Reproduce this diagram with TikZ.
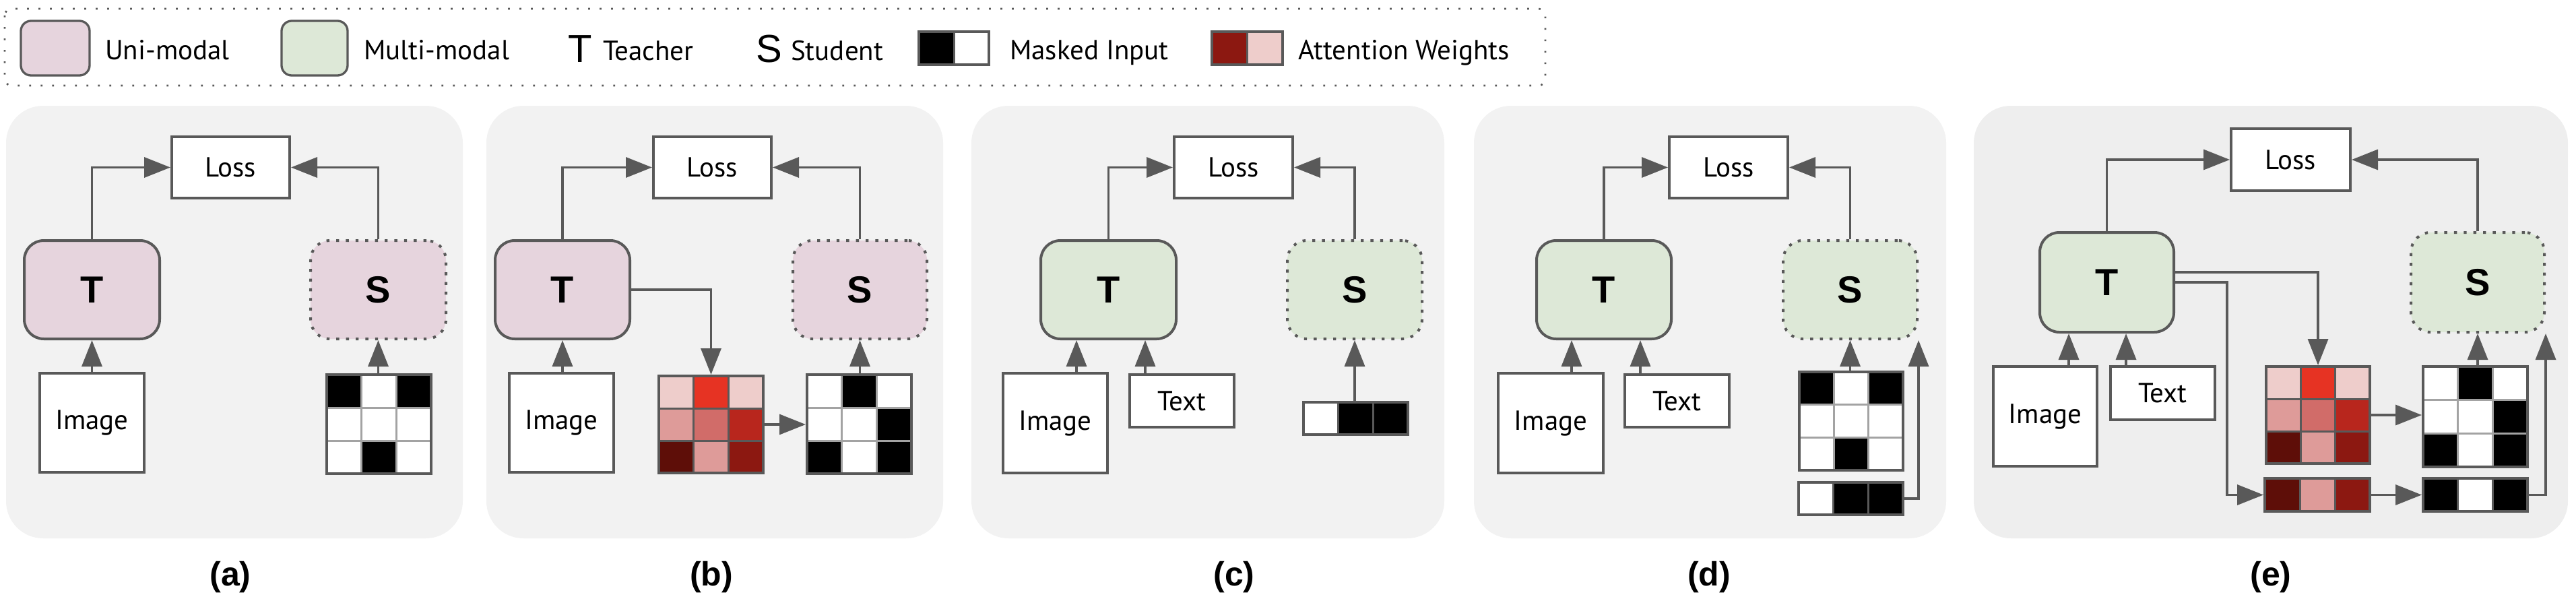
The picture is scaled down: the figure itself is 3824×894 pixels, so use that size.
\documentclass[tikz,border=0pt]{standalone}
\usepackage{fontspec}
\setmainfont{PT Sans}
\newfontfamily\arialf{Liberation Sans}
\usetikzlibrary{arrows.meta,calc}
\definecolor{gr}{HTML}{595959}
\definecolor{lgr}{HTML}{A3A3A3}
\definecolor{panelbg}{HTML}{F2F2F2}
\definecolor{panelbge}{HTML}{EEEEEE}
\definecolor{uni}{HTML}{E6D4DD}
\definecolor{multi}{HTML}{DDE8D7}
\definecolor{aA}{HTML}{EECDCB}
\definecolor{aB}{HTML}{E63323}
\definecolor{aC}{HTML}{DE9B99}
\definecolor{aD}{HTML}{D16C69}
\definecolor{aE}{HTML}{B8261D}
\definecolor{aF}{HTML}{5E0E08}
\definecolor{aG}{HTML}{8C1811}
% #1 style, #2 name, #3 x1, #4 y1, #5 x2, #6 y2, #7 text
\newcommand{\mybox}[7]{%
  \pgfmathsetmacro{\bxw}{#5-#3}\pgfmathsetmacro{\bxh}{#6-#4}%
  \pgfmathsetmacro{\bxcx}{(#3+#5)/2}\pgfmathsetmacro{\bxcy}{(#4+#6)/2}%
  \node[#1, minimum width=\bxw pt, minimum height=\bxh pt] (#2) at (\bxcx,\bxcy) {#7};}
% #1 name, #2 x1, #3 y1, #4 x2, #5 y2, #6 ncols, #7 nrows, #8 inner line colour, #9 cell colours
\newcommand{\mygrid}[9]{%
  \pgfmathsetmacro{\mgw}{(#4-#2)/#6}\pgfmathsetmacro{\mgh}{(#5-#3)/#7}%
  \foreach \cc [count=\ii from 0] in {#9} {%
    \pgfmathtruncatemacro{\grow}{floor(\ii/#6)}%
    \pgfmathtruncatemacro{\gcol}{mod(\ii,#6)}%
    \fill[fill=\cc] ({#2+\gcol*\mgw},{#3+\grow*\mgh}) rectangle ++(\mgw,\mgh);
  }%
  \ifnum#6>1 \draw[#8, line width=3pt] ({#2+\mgw},#3) -- ({#2+\mgw},#5);\fi
  \ifnum#6>2 \draw[#8, line width=3pt] ({#2+2*\mgw},#3) -- ({#2+2*\mgw},#5);\fi
  \ifnum#7>1 \draw[#8, line width=3pt] (#2,{#3+\mgh}) -- (#4,{#3+\mgh});\fi
  \ifnum#7>2 \draw[#8, line width=3pt] (#2,{#3+2*\mgh}) -- (#4,{#3+2*\mgh});\fi
  \mybox{frame}{#1}{#2}{#3}{#4}{#5}{}}
\begin{document}
\begin{tikzpicture}[x=1pt,y=-1pt,
  arr/.style={draw=gr,line width=3.4pt,-{Triangle[length=39pt,width=30pt]}},
  frame/.style={draw=gr,line width=4pt,inner sep=0pt},
  plain/.style={draw=gr,line width=4pt,fill=white,inner sep=0pt,font=\fontsize{41}{49}\selectfont},
  tbox/.style={draw=gr,line width=4pt,rounded corners=29pt,inner sep=0pt,font=\arialf\bfseries\fontsize{56}{60}\selectfont},
  sbox/.style={tbox,dash pattern=on 4.4pt off 10pt},
  lab/.style={inner sep=0pt,font=\arialf\bfseries\fontsize{50}{56}\selectfont},
  legt/.style={inner sep=0pt,anchor=base west,font=\fontsize{41}{49}\selectfont},
  legts/.style={inner sep=0pt,anchor=base west,font=\arialf\fontsize{58}{60}\selectfont},
  swatch/.style={draw=gr,line width=3.3pt,rounded corners=15pt,inner sep=0pt}
]
\useasboundingbox (0,0) rectangle (3824,894);
% ---------------- legend
\draw[gr, line width=2.7pt, dash pattern=on 2.7pt off 14.3pt, rounded corners=10pt] (7,13) rectangle (2294,127);
\mybox{swatch,fill=uni}{lgu}{31}{31}{133}{112}{}
\node[legt] (lgut) at (156,88) {Uni-modal};
\mybox{swatch,fill=multi}{lgm}{418}{31}{516}{112}{}
\node[legt] (lgmt) at (540,88) {Multi-modal};
\node[legts] (lgT) at (843,92) {T};
\node[legt] (lgTt) at (895,89) {Teacher};
\node[legts] (lgS) at (1122,92) {S};
\node[legt] (lgSt) at (1174,89) {Student};
\mygrid{lgk}{1364}{47}{1468}{96}{2}{1}{gr}{black,white}
\node[legt] (lgkt) at (1499,88) {Masked Input};
\mygrid{lga}{1799}{47}{1904}{96}{2}{1}{gr}{aG,aA}
\node[legt] (lgat) at (1927,88) {Attention Weights};
% ---------------- panel backgrounds
\fill[panelbg, rounded corners=55pt] (9,157) rectangle (687,799);
\fill[panelbg, rounded corners=55pt] (722,157) rectangle (1400,799);
\fill[panelbg, rounded corners=55pt] (1442,157) rectangle (2144,799);
\fill[panelbg, rounded corners=55pt] (2188,157) rectangle (2889,799);
\fill[panelbge, rounded corners=55pt] (2930,157) rectangle (3812,799);
% ---------------- (a)
\mybox{plain}{La}{255}{203}{430}{294}{Loss}
\mybox{tbox,fill=uni}{Ta}{36}{357}{237}{503}{T}
\mybox{sbox,fill=uni}{Sa}{461}{357}{662}{503}{S}
\mybox{plain}{Ia}{59}{554}{214}{701}{Image}
\mygrid{Ga}{485}{556}{640}{703}{3}{3}{lgr}{black,white,black,white,white,white,white,black,white}
\draw[arr] (Ta.north) |- (La.west);
\draw[arr] (Sa.north) |- (La.east);
\draw[arr] (Ta.south |- Ia.north) -- (Ta.south);
\draw[arr] (Sa.south |- Ga.north) -- (Sa.south);
\node[lab] (lba) at (342,857) {(a)};
% ---------------- (b)
\mybox{plain}{Lb}{970}{203}{1145}{294}{Loss}
\mybox{tbox,fill=uni}{Tb}{735}{357}{935}{503}{T}
\mybox{sbox,fill=uni}{Sb}{1177}{357}{1376}{503}{S}
\mybox{plain}{Ib}{756}{554}{911}{701}{Image}
\mygrid{Ab}{978}{558}{1133}{702}{3}{3}{gr}{aA,aB,aA,aC,aD,aE,aF,aC,aG}
\mygrid{Mb}{1198}{556}{1353}{703}{3}{3}{lgr}{white,black,white,white,white,black,black,white,black}
\draw[arr] (Tb.north) |- (Lb.west);
\draw[arr] (Sb.north) |- (Lb.east);
\draw[arr] (Tb.south |- Ib.north) -- (Tb.south);
\draw[arr] (Tb.east) -| (Ab.north);
\draw[arr] (Ab.east) -- (Ab.east -| Mb.west);
\draw[arr] (Sb.south |- Mb.north) -- (Sb.south);
\node[lab] (lbb) at (1056,857) {(b)};
% ---------------- (c)
\mybox{plain}{Lc}{1743}{203}{1919}{294}{Loss}
\mybox{tbox,fill=multi}{Tc}{1545}{357}{1746}{503}{T}
\mybox{sbox,fill=multi}{Sc}{1911}{357}{2111}{503}{S}
\mybox{plain}{Ic}{1489}{554}{1644}{702}{Image}
\mybox{plain}{Xc}{1677}{556}{1832}{634}{Text}
\mygrid{Rc}{1935}{597}{2090}{645}{3}{1}{gr}{white,black,black}
\coordinate (tc1) at ($(Tc.south west)+(55,0)$);
\coordinate (tc2) at ($(Tc.south west)+(157,0)$);
\draw[arr] (Tc.north) |- (Lc.west);
\draw[arr] (Sc.north) |- (Lc.east);
\draw[arr] (tc1 |- Ic.north) -- (tc1);
\draw[arr] (tc2 |- Xc.north) -- (tc2);
\draw[arr] (Sc.south |- Rc.north) -- (Sc.south);
\node[lab] (lbc) at (1832,857) {(c)};
% ---------------- (d)
\mybox{plain}{Ld}{2478}{203}{2654}{294}{Loss}
\mybox{tbox,fill=multi}{Td}{2281}{357}{2481}{503}{T}
\mybox{sbox,fill=multi}{Sd}{2647}{357}{2846}{503}{S}
\mybox{plain}{Id}{2224}{554}{2380}{702}{Image}
\mybox{plain}{Xd}{2412}{556}{2567}{634}{Text}
\mygrid{Gd}{2671}{552}{2825}{698}{3}{3}{lgr}{black,white,black,white,white,white,white,black,white}
\mygrid{Rd}{2670}{716}{2825}{764}{3}{1}{gr}{white,black,black}
\coordinate (td1) at ($(Td.south west)+(54,0)$);
\coordinate (td2) at ($(Td.south west)+(156,0)$);
\draw[arr] (Td.north) |- (Ld.west);
\draw[arr] (Sd.north) |- (Ld.east);
\draw[arr] (td1 |- Id.north) -- (td1);
\draw[arr] (td2 |- Xd.north) -- (td2);
\draw[arr] (Sd.south |- Gd.north) -- (Sd.south);
\draw[arr] (Rd.east) -| (Sd.south east);
\node[lab] (lbd) at (2537,857) {(d)};
% ---------------- (e)
\mybox{plain}{Le}{3312}{191}{3489}{283}{Loss}
\mybox{tbox,fill=multi}{Te}{3028}{345}{3227}{493}{T}
\mybox{sbox,fill=multi}{Se}{3579}{345}{3777}{493}{S}
\mybox{plain}{Ie}{2959}{544}{3113}{692}{Image}
\mybox{plain}{Xe}{3133}{544}{3288}{623}{Text}
\mygrid{Ae}{3364}{544}{3518}{688}{3}{3}{gr}{aA,aB,aA,aC,aD,aE,aF,aC,aG}
\mygrid{Me}{3597}{544}{3752}{693}{3}{3}{lgr}{white,black,white,white,white,black,black,white,black}
\mygrid{Are}{3362}{710}{3518}{759}{3}{1}{gr}{aF,aC,aG}
\mygrid{Mre}{3597}{710}{3752}{759}{3}{1}{gr}{black,white,black}
\coordinate (te1) at ($(Te.south west)+(45,0)$);
\coordinate (te2) at ($(Te.south west)+(130,0)$);
\coordinate (te3) at ($(Te.east)+(0,-15)$);
\coordinate (te4) at (3306,420);
\draw[arr] (Te.north) |- (Le.west);
\draw[arr] (Se.north) |- (Le.east);
\draw[arr] (te1 |- Ie.north) -- (te1);
\draw[arr] (te2 |- Xe.north) -- (te2);
\draw[arr] (te3) -| (Ae.north);
\draw[arr] (Te.east) -| (te4 |- Are.west) -- (Are.west);
\draw[arr] (Ae.east) -- (Ae.east -| Me.west);
\draw[arr] (Are.east) -- (Mre.west);
\draw[arr] (Se.south |- Me.north) -- (Se.south);
\draw[arr] (Mre.east) -| (Se.south east);
\node[lab] (lbe) at (3371,857) {(e)};
\end{tikzpicture}
\end{document}
